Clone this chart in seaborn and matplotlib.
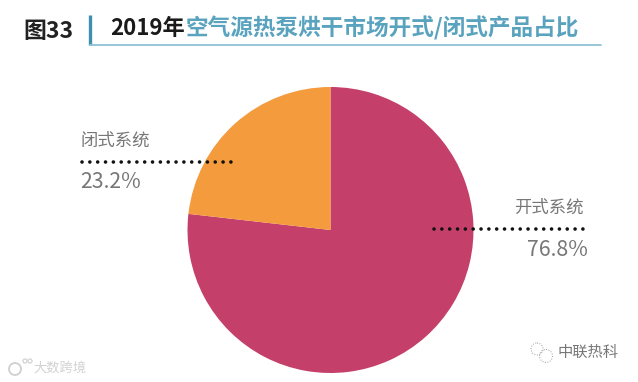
import matplotlib
matplotlib.use("Agg")
import matplotlib.pyplot as plt
import seaborn as sns
from matplotlib.patches import Circle

# data
labels = ["开式系统", "闭式系统"]
shares = [76.8, 23.2]
colors = ["#C4406B", "#F39B3D"]
fig_no = "图33"
title_year = "2019年"
title_rest = "空气源热泵烘干市场开式/闭式产品占比"
wm_left = "大数跨境"
wm_right = "中联热科"

sns.set_theme(style="white")
plt.rcParams['font.family'] = ['Noto Sans CJK SC', 'DejaVu Sans']

fig = plt.figure(figsize=(6.38, 3.82), dpi=100)
ax = fig.add_axes([0, 0, 1, 1])

# pie, axes are in pixels of the picture (y goes down, so top is 270 deg)
ax.pie(shares, colors=colors, startangle=270, counterclock=True,
       center=(330.5, 230), radius=143, frame=True,
       wedgeprops=dict(linewidth=0))
ax.set_xlim(0, 638)
ax.set_ylim(382, 0)
ax.set_aspect("auto")
ax.axis("off")

# header
ax.text(23, 31, fig_no, fontsize=16.5, fontweight="bold", color="#222222", va="center")
ax.plot([90, 90], [15, 45], color="#3F8FAF", lw=2.4, solid_capstyle="butt")
ax.plot([90, 601], [45, 45], color="#8FC1D6", lw=1.3)
year = ax.text(110, 28.5, title_year, fontsize=16, fontweight="bold", color="#1A1A1A", va="center")
fig.canvas.draw()
bb = year.get_window_extent()
ax.text(bb.x1 + 1, 28.5, title_rest, fontsize=16.3, fontweight="bold", color="#5AA3BF", va="center")

# callouts
dots = dict(color="#111111", lw=2.6, linestyle=(0, (0.01, 2.16)), dash_capstyle="round")
ax.plot([82, 231], [161.5, 161.5], **dots)
ax.plot([434, 584], [228.5, 228.5], **dots)

ax.text(80, 141, labels[1], fontsize=12.5, color="#777777", va="center")
ax.text(80, 182, f"{shares[1]}%", fontsize=15.3, color="#777777", va="center")
ax.text(584, 208, labels[0], fontsize=12.5, color="#777777", va="center", ha="right")
ax.text(588, 250, f"{shares[0]}%", fontsize=15.3, color="#777777", va="center", ha="right")

# watermarks
ax.text(33, 368, wm_left, fontsize=9.5, color="#D2D2D2", va="center")
ax.add_patch(Circle((15, 369), 6, fill=False, ec="#D2D2D2", lw=1.4))
ax.add_patch(Circle((25, 361), 2, fill=False, ec="#D2D2D2", lw=0.9))
ax.add_patch(Circle((30, 361), 2, fill=False, ec="#D2D2D2", lw=0.9))
ax.text(558, 352, wm_right, fontsize=11, color="#777777", va="center")
ax.add_patch(Circle((537, 349), 6, fill=False, ec="#999999", lw=0.7, ls=":"))
ax.add_patch(Circle((546, 356), 6.5, fill=False, ec="#999999", lw=0.7, ls=":"))

fig.savefig("out.png", dpi=100)
